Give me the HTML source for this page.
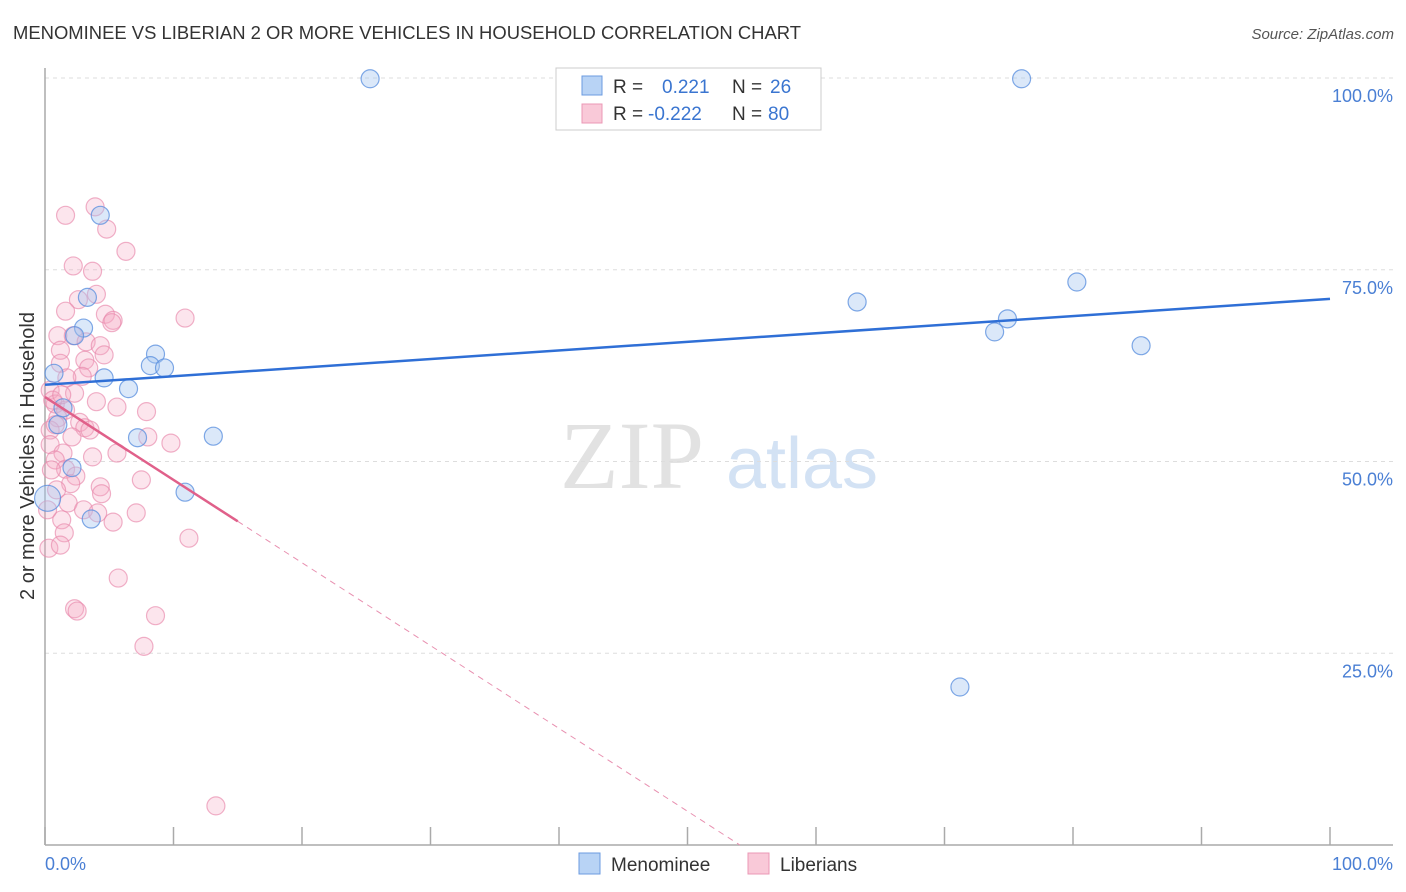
<!DOCTYPE html>
<html><head><meta charset="utf-8"><style>
body{margin:0;background:#fff;font-family:"Liberation Sans",sans-serif}
svg{display:block}
</style></head><body>
<svg id="c" width="1406" height="892" xmlns="http://www.w3.org/2000/svg">
<text x="13" y="39" font-size="18.6" fill="#333" textLength="788" lengthAdjust="spacingAndGlyphs">MENOMINEE VS LIBERIAN 2 OR MORE VEHICLES IN HOUSEHOLD CORRELATION CHART</text>
<text x="1394" y="39" font-size="15" fill="#555" font-style="italic" text-anchor="end">Source: ZipAtlas.com</text>
<text x="632" y="488" font-size="96" fill="#e2e2e2" font-family="Liberation Serif,serif" text-anchor="middle">ZIP</text>
<text x="802" y="488" font-size="72" fill="#d3e2f4" text-anchor="middle">atlas</text>
<g id="grid"></g>
<g id="pts"></g>
<g id="lines"></g>
<text transform="translate(34,456) rotate(-90)" font-size="20" fill="#333" text-anchor="middle">2 or more Vehicles in Household</text>
<text x="45" y="870" font-size="18" fill="#4a7fd4">0.0%</text>
<text x="1393" y="870" font-size="18" fill="#4a7fd4" text-anchor="end">100.0%</text>
<g>
<rect x="556" y="68" width="265" height="62" fill="#fff" stroke="#ccc"/>
<rect x="582" y="76" width="20" height="19" fill="#b8d3f5" stroke="#6b9be0"/>
<rect x="582" y="104" width="20" height="19" fill="#f9c9d8" stroke="#eb98b6"/>
<text x="613" y="93" font-size="19" fill="#333">R = </text><text x="662" y="93" font-size="19" fill="#3a75d0">0.221</text>
<text x="732" y="93" font-size="19" fill="#333">N = </text><text x="770" y="93" font-size="19" fill="#3a75d0">26</text>
<text x="613" y="120" font-size="19" fill="#333">R = </text><text x="648" y="120" font-size="19" fill="#3a75d0">-0.222</text>
<text x="732" y="120" font-size="19" fill="#333">N = </text><text x="768" y="120" font-size="19" fill="#3a75d0">80</text>
</g>
<g>
<rect x="579" y="853" width="21" height="21" fill="#b8d3f5" stroke="#6b9be0"/>
<text x="611" y="871" font-size="19" fill="#333">Menominee</text>
<rect x="748" y="853" width="21" height="21" fill="#f9c9d8" stroke="#eb98b6"/>
<text x="780" y="871" font-size="19" fill="#333">Liberians</text>
</g>
</svg>
<script>
const yTicks=[25,50,75,100];
const yTickLabels=["25.0%","50.0%","75.0%","100.0%"];
const xTicks=[0,10,20,30,40,50,60,70,80,90,100];
const blueX=[25.3,76.0,4.3,3.3,3.0,2.3,8.6,8.2,9.3,0.7,4.6,6.5,80.3,63.2,74.9,73.9,85.3,13.1,7.2,2.1,10.9,3.6,71.2,1.0,1.4,0.2];
const blueY=[99.9,99.9,82.1,71.4,67.4,66.4,64.0,62.5,62.2,61.5,60.9,59.5,73.4,70.8,68.6,66.9,65.1,53.3,53.1,49.2,46.0,42.5,20.6,54.8,57.0,45.2];
const pinkX=[1.6,3.9,4.8,6.3,2.2,3.7,4.0,2.6,1.6,4.7,5.3,10.9,1.0,2.2,3.2,4.3,4.6,1.2,1.2,3.1,3.4,2.9,1.7,0.4,2.3,4.0,0.8,1.6,5.6,7.9,1.0,2.7,3.1,2.1,8.0,9.8,0.4,0.4,1.4,0.8,3.7,5.6,1.6,2.4,2.0,4.3,4.4,7.5,0.9,1.8,3.0,4.1,5.3,7.1,1.3,1.5,11.2,0.3,5.7,2.3,2.5,8.6,7.7,13.3,0.6,0.5,0.2,1.2,5.2,0.8,1.3,3.5];
const pinkY=[82.1,83.2,80.3,77.4,75.5,74.8,71.8,71.1,69.6,69.2,68.4,68.7,66.4,66.4,65.6,65.1,63.9,64.5,62.8,63.2,62.2,61.1,60.9,59.3,58.9,57.8,57.5,56.7,57.1,56.5,55.7,55.1,54.4,53.2,53.2,52.4,54.1,52.2,51.1,50.2,50.6,51.1,49.0,48.1,47.1,46.7,45.8,47.6,46.3,44.6,43.7,43.3,42.1,43.3,42.4,40.7,40.0,38.7,34.8,30.8,30.5,29.9,25.9,5.1,58.0,48.9,43.7,39.1,68.1,54.8,58.7,54.1];
const blueLine=[60.0,71.2];
const pinkLine=[58.4,-1.08];
const NS="http://www.w3.org/2000/svg";
const X=v=>45+v*12.85, Y=v=>845-v*7.67;
function mk(t,a,p){const e=document.createElementNS(NS,t);for(const k in a)e.setAttribute(k,a[k]);p.appendChild(e);return e;}
const g=document.getElementById('grid');
yTicks.forEach((v,i)=>{
 const l=mk('line',{x1:45,x2:1393,y1:Y(v),y2:Y(v),stroke:'#ddd','stroke-dasharray':'4,4'},g);
 
 
 const t=mk('text',{x:1393,y:Y(v)+24,'font-size':18,fill:'#4a7fd4','text-anchor':'end'},g);
 t.textContent=yTickLabels[i];
 
 
});
const ax=mk('line',{x1:45,x2:45,y1:68,y2:845,stroke:'#aaa','stroke-width':1.5},g);


const bx=mk('line',{x1:45,x2:1393,y1:845,y2:845,stroke:'#aaa','stroke-width':1.5},g);


xTicks.forEach(v=>{
 const t=mk('line',{x1:X(v),x2:X(v),y1:827,y2:845,stroke:'#aaa','stroke-width':1.5},g);
 
 
});
const p=document.getElementById('pts');
pinkX.forEach((v,i)=>{
 const c=mk('circle',{cx:X(v),cy:Y(pinkY[i]),r:9,fill:'rgba(245,170,195,0.3)',stroke:'rgba(232,135,170,0.65)','stroke-width':1.2},p);
 
 
});
blueX.forEach((v,i)=>{
 const c=mk('circle',{cx:X(v),cy:Y(blueY[i]),r:i==25?13:9,fill:'rgba(165,198,240,0.4)',stroke:'rgba(85,140,222,0.75)','stroke-width':1.2},p);
 
 
});
const L=document.getElementById('lines');
const bl=mk('line',{x1:X(0),y1:Y(blueLine[0]),x2:X(100),y2:Y(blueLine[1]),stroke:'#2f6fd6','stroke-width':2.5},L);


const xe=-pinkLine[0]/pinkLine[1];
const pd=mk('line',{x1:X(15),y1:Y(pinkLine[0]+pinkLine[1]*15),x2:X(xe),y2:Y(0),stroke:'#e890b0','stroke-width':1,'stroke-dasharray':'6,5'},L);


const ps=mk('line',{x1:X(0),y1:Y(pinkLine[0]),x2:X(15),y2:Y(pinkLine[0]+pinkLine[1]*15),stroke:'#e0608a','stroke-width':2.5},L);


</script>
</body></html>
